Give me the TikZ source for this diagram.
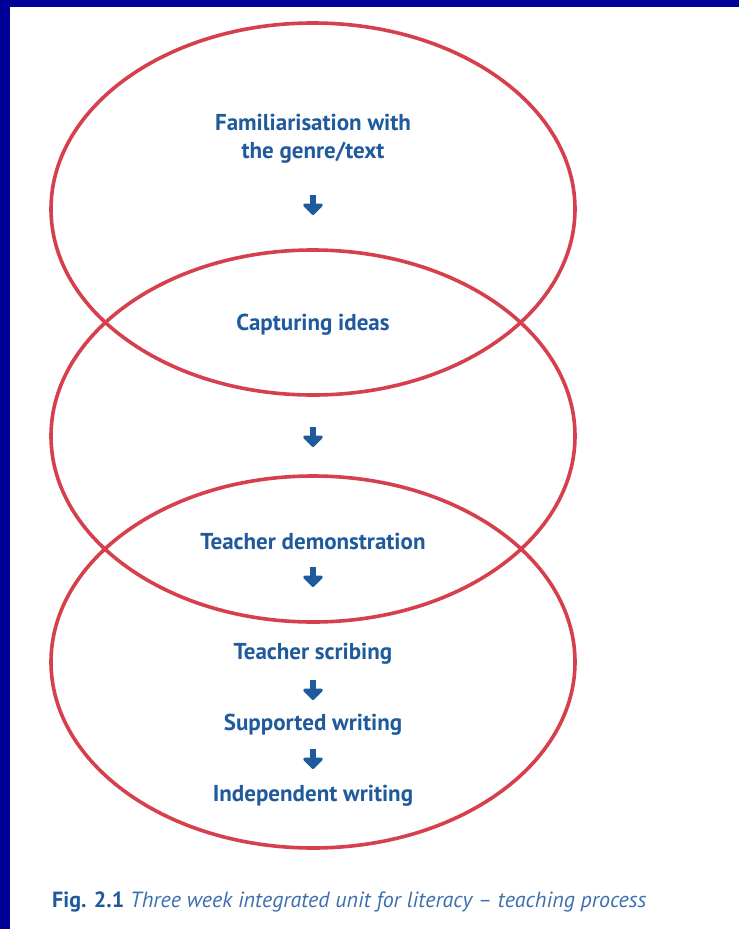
\documentclass[tikz,border=0pt]{standalone}
\usepackage{fontspec}
\setmainfont{PT Sans}
\usetikzlibrary{arrows.meta, positioning}
\definecolor{frameBlue}{HTML}{000099}
\definecolor{ringRed}{HTML}{D6404C}
\definecolor{stepBlue}{HTML}{1F5A9C}
\definecolor{capBlue}{HTML}{3D6FB0}

\begin{document}
\begin{tikzpicture}[x=1pt, y=-1pt,
    every node/.style={font=\bfseries\fontsize{23}{28}\selectfont, text=stepBlue, inner sep=0pt},
    ring/.style={ringRed, line width=3.6pt},
    downarrow/.style={stepBlue, line width=6.5pt, -{Triangle[length=12pt, width=23pt, round]}}]
        % page and frame
        \useasboundingbox (0,0) rectangle (739,929);
        \fill[frameBlue] (0,0) rectangle (739,929);
        \fill[white] (10,7) rectangle (739,929);
        % the three weeks
        \draw[ring] (313,209) ellipse [x radius=262pt, y radius=186pt];
        \draw[ring] (313,436) ellipse [x radius=262pt, y radius=186pt];
        \draw[ring] (313,662) ellipse [x radius=262pt, y radius=186pt];
        % steps
        \node[align=center] (famil) at (313,139) {Familiarisation with\\the genre/text};
        \node (capture) at (313,325) {Capturing ideas};
        \node (demo) at (313,541) {Teacher demonstration};
        \node (scribe) at (313,654) {Teacher scribing};
        \node (support) at (313,725) {Supported writing};
        \node (indep) at (313,796) {Independent writing};
        % arrows
        \foreach \y [count=\i] in {205,437,577,690,759} {
          \coordinate (top\i) at (313,\y-10);
          \coordinate (tip\i) at (313,\y+10);
          \draw[downarrow] (top\i) -- (tip\i);
        }
        % caption
        \node[font=\fontsize{22}{26}\selectfont, text=capBlue, anchor=west] (caption) at (52,902)
          {\textbf{\color{stepBlue}Fig. 2.1} \itshape Three week integrated unit for literacy – teaching process};
      \end{tikzpicture}
\end{document}
